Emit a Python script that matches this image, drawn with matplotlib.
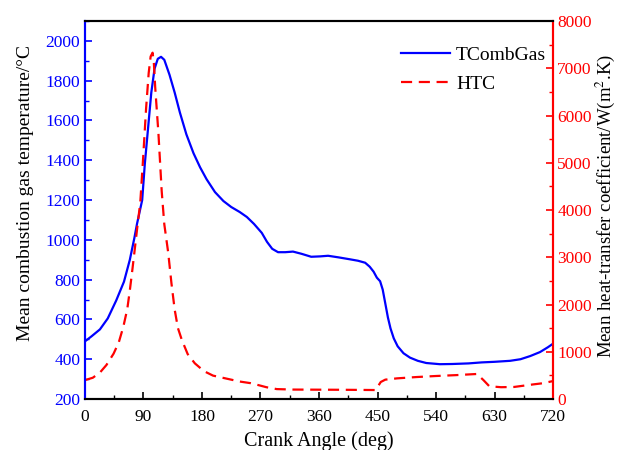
import numpy as np
import matplotlib
matplotlib.use("Agg")
import matplotlib.pyplot as plt
from matplotlib.ticker import MultipleLocator

plt.rcParams['font.family'] = ['Liberation Serif', 'DejaVu Serif']
plt.rcParams['mathtext.fontset'] = 'stix'

# mean gas temperature over the cycle
angle_t = [0, 10, 23, 35, 48, 60, 69, 76, 80, 84, 88, 92, 97, 102, 107, 112,
           117, 122, 130, 138, 146, 156, 167, 177, 187, 200, 213, 225, 238,
           249, 260, 272, 280, 288, 297, 308, 320, 333, 348, 362, 374, 390,
           408, 420, 431, 438, 444, 449, 454, 458, 462, 466, 470, 475, 481,
           490, 500, 512, 525, 546, 565, 590, 610, 630, 654, 670, 685, 700,
           712, 720]
t_gas = [490, 515, 550, 605, 695, 790, 900, 1010, 1080, 1140, 1200, 1380,
         1560, 1740, 1860, 1910, 1920, 1905, 1830, 1740, 1640, 1530, 1435,
         1365, 1305, 1240, 1195, 1165, 1140, 1115, 1080, 1035, 990, 955, 938,
         938, 941, 930, 915, 917, 920, 912, 902, 895, 885, 865, 840, 810, 792,
         750, 680, 610, 555, 505, 465, 430, 408, 392, 381, 375, 376, 379, 384,
         387, 392, 400, 416, 436, 460, 478]

# mean heat-transfer coefficient
angle_h = [0, 12, 23, 33, 44, 52, 59, 65, 69, 73, 77, 81, 85, 89, 94, 98,
           101, 104, 106, 108, 113, 118, 122, 128, 133, 138, 143, 149, 158,
           169, 183, 197, 215, 238, 255, 268, 279, 295, 320, 400, 447, 455,
           462, 480, 510, 540, 570, 603, 613, 622, 640, 660, 690, 705, 720]
htc = [400, 450, 560, 720, 960, 1200, 1530, 1900, 2300, 2750, 3220, 3700,
       4150, 5000, 6150, 6900, 7250, 7330, 7100, 6600, 5620, 4400, 3700, 3100,
       2450, 1890, 1500, 1250, 950, 755, 590, 495, 440, 370, 335, 290, 250,
       210, 200, 195, 190, 360, 410, 437, 465, 487, 505, 530, 400, 270, 250,
       255, 310, 335, 380]

fig = plt.figure(figsize=(6.19, 4.5), dpi=100)
ax = fig.add_axes([0.1373, 0.1133, 0.7561, 0.84])
ax2 = ax.twinx()

l1, = ax.plot(angle_t, t_gas, color='#0000ff', lw=1.6, label='TCombGas')
l2, = ax2.plot(angle_h, htc, color='#ff0000', lw=1.6, ls=(0, (5, 3)),
               label='HTC')

ax.set_xlim(0, 720)
ax.set_ylim(200, 2100)
ax2.set_ylim(0, 8000)

ax.xaxis.set_major_locator(MultipleLocator(90))
ax.xaxis.set_minor_locator(MultipleLocator(45))
ax.yaxis.set_major_locator(MultipleLocator(200))
ax.yaxis.set_minor_locator(MultipleLocator(100))
ax2.yaxis.set_major_locator(MultipleLocator(1000))
ax2.yaxis.set_minor_locator(MultipleLocator(500))
ax.set_yticks(np.arange(200, 2001, 200))

for a in (ax, ax2):
    a.tick_params(which='major', direction='in', length=5, width=1.2,
                  labelsize=12.5)
    a.tick_params(which='minor', direction='in', length=3, width=1.0)

ax.tick_params(axis='y', which='both', colors='#0000ff', left=True,
               right=False)
ax.tick_params(axis='x', which='both', top=False, pad=7)
ax2.tick_params(axis='y', which='both', colors='#ff0000', right=True,
                left=False, pad=3)

for a in (ax, ax2):
    a.spines['left'].set_color('#0000ff')
    a.spines['right'].set_color('#ff0000')
    a.spines['top'].set_color('black')
    a.spines['bottom'].set_color('black')
    for s in a.spines.values():
        s.set_linewidth(1.5)

ax.set_xlabel('Crank Angle (deg)', fontsize=14.5, labelpad=5)
ax.set_ylabel('Mean combustion gas temperature/°C', fontsize=14)
ax.yaxis.set_label_coords(-0.108, 0.545)
ax2.set_ylabel('Mean heat-transfer coefficient/W(m$^2$.K)', fontsize=13.5)
ax2.yaxis.set_label_coords(1.087, 0.51)

ax2.legend([l1, l2], ['TCombGas', 'HTC'], loc='upper right',
           bbox_to_anchor=(1.01, 0.965), frameon=False, fontsize=14,
           handlelength=2.5, handletextpad=0.3, labelspacing=0.6,
           borderaxespad=0.2)

fig.savefig('out.png', dpi=100)
